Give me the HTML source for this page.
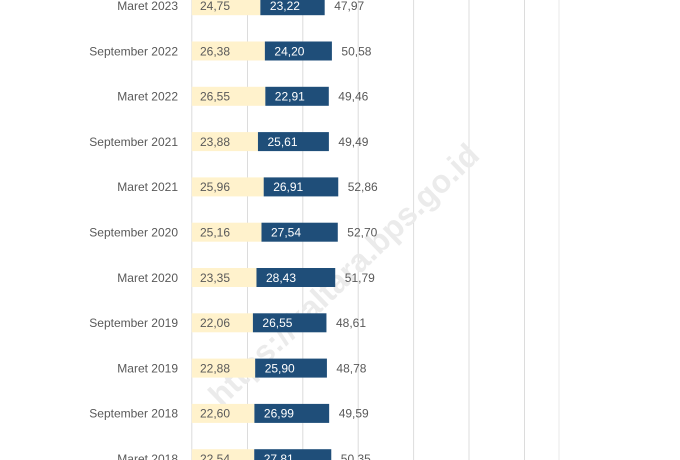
<!DOCTYPE html>
<html>
<head>
<meta charset="utf-8">
<style>
html,body{margin:0;padding:0;background:#fff;}
svg{display:block;}
text{font-family:"Liberation Sans",Arial,sans-serif;}
</style>
</head>
<body>
<svg width="680" height="460" viewBox="0 0 680 460" xmlns="http://www.w3.org/2000/svg">
<rect width="680" height="460" fill="#ffffff"/>
<!-- gridlines -->
<g stroke="#dcdcdc" stroke-width="1">
<line x1="191.8" y1="0" x2="191.8" y2="460"/>
<line x1="247.5" y1="0" x2="247.5" y2="460"/>
<line x1="302.8" y1="0" x2="302.8" y2="460"/>
<line x1="358.2" y1="0" x2="358.2" y2="460"/>
<line x1="413.6" y1="0" x2="413.6" y2="460"/>
<line x1="469" y1="0" x2="469" y2="460"/>
<line x1="524.5" y1="0" x2="524.5" y2="460"/>
<line x1="559" y1="0" x2="559" y2="460" stroke="#e8e8e8"/>
</g>
<!-- watermark -->
<text x="343" y="286" transform="rotate(-44 343 274)" font-size="32" font-weight="bold" fill="#ebebeb" text-anchor="middle">https://kaltara.bps.go.id</text>

<!-- bars -->
<g>
<rect x="191.8" y="-3.8" width="68.56" height="19" fill="#FFF2CC"/><rect x="260.36" y="-3.8" width="64.32" height="19" fill="#1F4E79"/>
<rect x="191.8" y="41.5" width="73.07" height="19" fill="#FFF2CC"/><rect x="264.87" y="41.5" width="67.03" height="19" fill="#1F4E79"/>
<rect x="191.8" y="86.8" width="73.54" height="19" fill="#FFF2CC"/><rect x="265.34" y="86.8" width="63.46" height="19" fill="#1F4E79"/>
<rect x="191.8" y="132.1" width="66.15" height="19" fill="#FFF2CC"/><rect x="257.95" y="132.1" width="70.94" height="19" fill="#1F4E79"/>
<rect x="191.8" y="177.4" width="71.91" height="19" fill="#FFF2CC"/><rect x="263.71" y="177.4" width="74.54" height="19" fill="#1F4E79"/>
<rect x="191.8" y="222.7" width="69.69" height="19" fill="#FFF2CC"/><rect x="261.49" y="222.7" width="76.29" height="19" fill="#1F4E79"/>
<rect x="191.8" y="268" width="64.68" height="19" fill="#FFF2CC"/><rect x="256.48" y="268" width="78.75" height="19" fill="#1F4E79"/>
<rect x="191.8" y="313.3" width="61.11" height="19" fill="#FFF2CC"/><rect x="252.91" y="313.3" width="73.54" height="19" fill="#1F4E79"/>
<rect x="191.8" y="358.6" width="63.38" height="19" fill="#FFF2CC"/><rect x="255.18" y="358.6" width="71.74" height="19" fill="#1F4E79"/>
<rect x="191.8" y="403.9" width="62.60" height="19" fill="#FFF2CC"/><rect x="254.40" y="403.9" width="74.76" height="19" fill="#1F4E79"/>
<rect x="191.8" y="449.2" width="62.44" height="19" fill="#FFF2CC"/><rect x="254.24" y="449.2" width="77.03" height="19" fill="#1F4E79"/>
</g>

<!-- category labels -->
<g font-size="12" fill="#595959" text-anchor="end">
<text x="178" y="10">Maret 2023</text>
<text x="178" y="55.3">September 2022</text>
<text x="178" y="100.6">Maret 2022</text>
<text x="178" y="145.9">September 2021</text>
<text x="178" y="191.2">Maret 2021</text>
<text x="178" y="236.5">September 2020</text>
<text x="178" y="281.8">Maret 2020</text>
<text x="178" y="327.1">September 2019</text>
<text x="178" y="372.4">Maret 2019</text>
<text x="178" y="417.7">September 2018</text>
<text x="178" y="463">Maret 2018</text>
</g>

<!-- beige labels -->
<g font-size="12" fill="#595959">
<text x="200" y="10">24,75</text>
<text x="200" y="55.3">26,38</text>
<text x="200" y="100.6">26,55</text>
<text x="200" y="145.9">23,88</text>
<text x="200" y="191.2">25,96</text>
<text x="200" y="236.5">25,16</text>
<text x="200" y="281.8">23,35</text>
<text x="200" y="327.1">22,06</text>
<text x="200" y="372.4">22,88</text>
<text x="200" y="417.7">22,60</text>
<text x="200" y="463">22,54</text>
</g>

<!-- navy labels -->
<g font-size="12" fill="#ffffff">
<text x="269.9" y="10">23,22</text>
<text x="274.4" y="55.3">24,20</text>
<text x="274.8" y="100.6">22,91</text>
<text x="267.5" y="145.9">25,61</text>
<text x="273.2" y="191.2">26,91</text>
<text x="271.0" y="236.5">27,54</text>
<text x="266.0" y="281.8">28,43</text>
<text x="262.4" y="327.1">26,55</text>
<text x="264.7" y="372.4">25,90</text>
<text x="263.9" y="417.7">26,99</text>
<text x="263.7" y="463">27,81</text>
</g>

<!-- total labels -->
<g font-size="12" fill="#595959">
<text x="334.2" y="10">47,97</text>
<text x="341.4" y="55.3">50,58</text>
<text x="338.3" y="100.6">49,46</text>
<text x="338.4" y="145.9">49,49</text>
<text x="347.7" y="191.2">52,86</text>
<text x="347.3" y="236.5">52,70</text>
<text x="344.8" y="281.8">51,79</text>
<text x="336.0" y="327.1">48,61</text>
<text x="336.4" y="372.4">48,78</text>
<text x="338.7" y="417.7">49,59</text>
<text x="340.8" y="463">50,35</text>
</g>
</svg>
</body>
</html>
